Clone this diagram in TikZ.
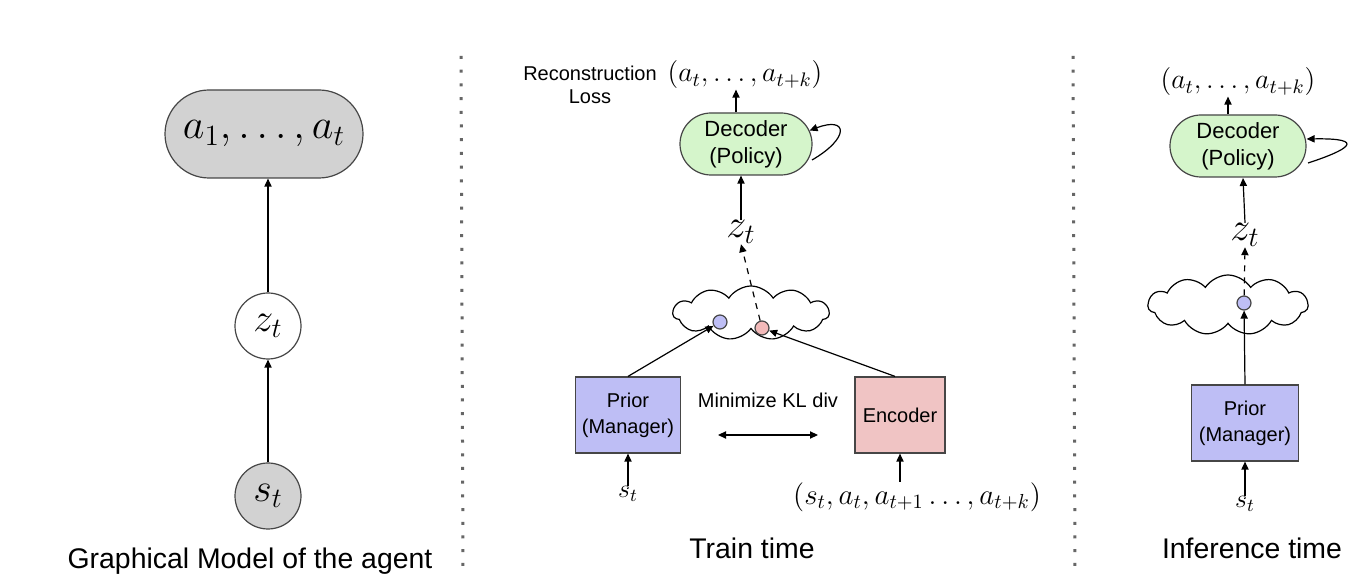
\RequirePackage{fix-cm}
\documentclass[tikz,border=0pt]{standalone}
\usepackage[no-math]{fontspec}
\setmainfont{Liberation Sans}
\usetikzlibrary{arrows.meta,shapes.misc,shapes.symbols}
\definecolor{edgegray}{RGB}{70,70,70}
\definecolor{boxgray}{RGB}{210,210,210}
\definecolor{decgreen}{RGB}{213,245,203}
\definecolor{priorblue}{RGB}{190,190,245}
\definecolor{encred}{RGB}{240,196,196}
\definecolor{dotred}{RGB}{242,185,185}
\begin{document}
\begin{tikzpicture}[x=0.5pt,y=-0.5pt,line width=0.6pt,>={Triangle[length=4pt,width=3.6pt]},
	every node/.style={inner sep=0pt,align=center},
	pill/.style={rounded rectangle,draw=edgegray},
	var/.style={circle,draw=edgegray,minimum size=33pt},
	block/.style={rectangle,draw=edgegray,minimum height=38pt},
	dot/.style={circle,draw=edgegray,minimum size=7pt},
	blob/.style={cloud,draw=black,cloud puffs=11,cloud puff arc=115,aspect=3,minimum width=78pt,minimum height=27pt},
	sep/.style={draw=black!60,line width=1.5pt,dash pattern=on 1.5pt off 5.35pt},
	small/.style={font=\fontsize{10}{12}\selectfont},
	caption/.style={font=\fontsize{14.2}{17}\selectfont}]
	\useasboundingbox (0,0) rectangle (1362,582);
	% graphical model
	\node[pill,fill=boxgray,minimum width=99pt,minimum height=44pt] (acts) at (264,134) {\fontsize{21}{25}\selectfont$a_1,\dots,a_t$};
	\node[var,fill=white] (zg) at (268,326) {\fontsize{20}{24}\selectfont$z_t$};
	\node[var,fill=boxgray] (sg) at (268,496) {\fontsize{20}{24}\selectfont$s_t$};
	\draw[->] (zg) -- (zg|-acts.south);
	\draw[->] (sg) -- (zg);
	\node[caption] (capg) at (250,561) {Graphical Model of the agent};
	\draw[sep] (461,56) -- (463,570);
	% train time
	\node[pill,fill=decgreen,minimum width=66pt,minimum height=31pt,font=\fontsize{11}{13}\selectfont] (dec) at (746,144) {Decoder\\[0.5pt](Policy)};
	\node[font=\fontsize{14}{16}\selectfont] (outt) at (745,75) {$(a_t,\dots,a_{t+k})$};
	\node[font=\fontsize{10}{11.5}\selectfont] (rec) at (590,85) {Reconstruction\\Loss};
	\node[font=\fontsize{20}{24}\selectfont] (zt) at (741,232) {$z_t$};
	\node[blob] (cl) at (751,313) {};
	\node[dot,fill=priorblue] (bd) at (720,322) {};
	\node[dot,fill=dotred] (rd) at (762,328) {};
	\node[block,fill=priorblue,minimum width=52.5pt,small] (prior) at (628,415) {Prior\\[1pt](Manager)};
	\node[block,fill=encred,minimum width=45pt,small] (enc) at (900,415) {Encoder};
	\node[small] (kl) at (768,400) {Minimize KL div};
	\coordinate (kll) at (718,435);
	\coordinate (klr) at (818,435);
	\node[font=\fontsize{13}{15}\selectfont] (st) at (628,494) {$s_t$};
	\node[font=\fontsize{14.5}{17}\selectfont] (tup) at (917,497) {$(s_t,a_t,a_{t+1}\dots,a_{t+k})$};
	\draw[->] (dec.north-|736,0) -- (outt.south-|736,0);
	\draw[->] (zt.north) -- (zt.north|-dec.south);
	\draw[->,dashed] (rd) -- (zt.south);
	\draw[->] (prior.north) -- (bd);
	\draw[->] (enc.north-|895,0) -- (rd);
	\draw[<->] (kll) -- (klr);
	\draw[->] (st.north) -- (prior.south);
	\draw[->] (tup.north-|900,0) -- (enc.south-|900,0);
	\draw[->] (812,160) .. controls (850,138) and (848,116) .. (dec.12);
	\node[caption] (capt) at (752,548) {Train time};
	\draw[sep] (1073,56) -- (1075,570);
	% inference time
	\node[pill,fill=decgreen,minimum width=68pt,minimum height=31pt,font=\fontsize{11}{13}\selectfont] (deci) at (1238,146) {Decoder\\[0.5pt](Policy)};
	\node[font=\fontsize{14}{16}\selectfont] (outi) at (1238,82) {$(a_t,\dots,a_{t+k})$};
	\node[font=\fontsize{20}{24}\selectfont] (zi) at (1245,235) {$z_t$};
	\node[blob,minimum width=80pt,minimum height=30pt] (cli) at (1228,305) {};
	\node[dot,fill=priorblue] (bdi) at (1244,303) {};
	\node[block,fill=priorblue,minimum width=53.5pt,small] (priori) at (1245,423) {Prior\\[1pt](Manager)};
	\node[font=\fontsize{13}{15}\selectfont] (sti) at (1245,504) {$s_t$};
	\draw[->] (deci.north-|1228,0) -- (outi.south-|1228,0);
	\draw[->] (zi.north) -- (1243,178);
	\draw[->,dashed] (bdi) -- (zi.south);
	\draw[->] (priori.north) -- (bdi);
	\draw[->] (sti.north) -- (priori.south);
	\draw[->] (1308,163) .. controls (1348,150) and (1368,138) .. (deci.east|-0,139);
	\node[caption] (capi) at (1252,548) {Inference time};
\end{tikzpicture}
\end{document}
